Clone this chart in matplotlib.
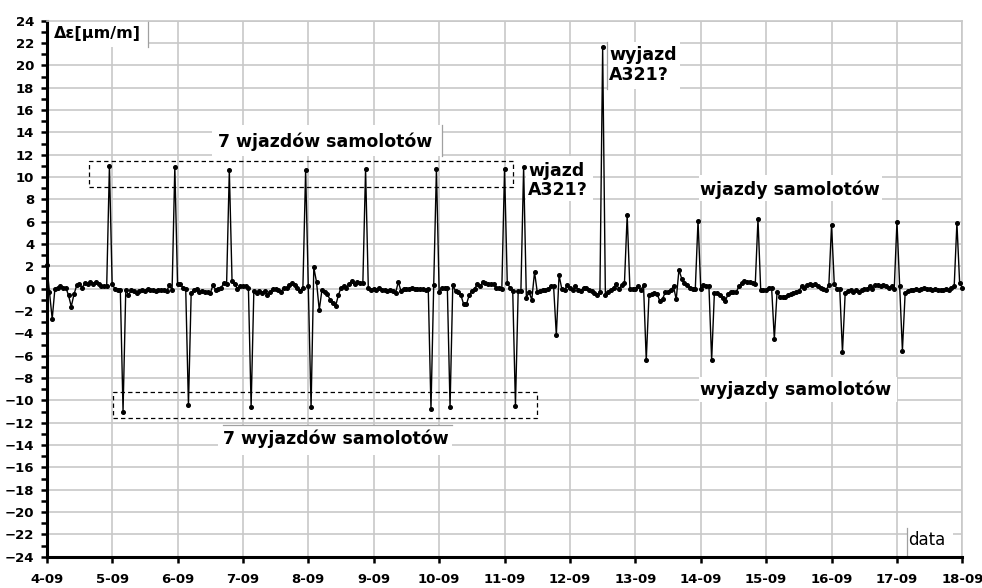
import numpy as np
import matplotlib
matplotlib.use("Agg")
import matplotlib.pyplot as plt
from matplotlib.patches import Rectangle

# ---------------- data ----------------
day_labels = ["4-09", "5-09", "6-09", "7-09", "8-09", "9-09", "10-09", "11-09",
              "12-09", "13-09", "14-09", "15-09", "16-09", "17-09", "18-09"]
samples_per_day = 24  # hourly readings

d04 = [2.1, -0.3, -2.7, 0.0, 0.1, 0.2, 0.1, 0.1, -0.6, -1.6, -0.5, 0.3,
       0.4, 0.1, 0.5, 0.4, 0.6, 0.4, 0.6, 0.4, 0.2, 0.2, 0.2, 11.0]
d05 = [0.4, 0.0, -0.1, -0.1, -11.0, -0.1, -0.6, -0.1, -0.2, -0.4, -0.2, -0.1,
       -0.2, 0.0, -0.1, -0.1, -0.2, -0.1, -0.1, -0.1, -0.2, 0.3, -0.1, 10.9]
d06 = [0.4, 0.4, 0.1, 0.0, -10.45, -0.4, -0.1, 0.0, -0.3, -0.2, -0.3, -0.3,
       -0.4, 0.3, -0.1, 0.0, 0.1, 0.5, 0.4, 10.6, 0.7, 0.4, 0.0, 0.2]
d07 = [0.2, 0.2, 0.1, -10.55, -0.2, -0.35, -0.2, -0.4, -0.2, -0.6, -0.3, 0.0,
       0.0, -0.1, -0.3, 0.1, 0.1, 0.3, 0.5, 0.3, 0.1, -0.2, 0.1, 10.6]
d08 = [0.2, -10.6, 1.9, 0.6, -1.9, -0.1, -0.3, -0.5, -1.0, -1.3, -1.55, -0.6,
       0.1, 0.2, 0.1, 0.4, 0.7, 0.4, 0.6, 0.5, 0.5, 10.7, 0.1, -0.1]
d09 = [0.0, -0.1, 0.1, -0.1, -0.1, -0.2, -0.1, -0.2, -0.4, 0.6, -0.2, 0.0,
       0.0, 0.0, 0.1, 0.0, 0.0, 0.0, 0.0, -0.1, 0.0, -10.8, 0.3, 10.7]
d10 = [-0.3, 0.1, 0.1, 0.1, -10.6, 0.3, -0.2, -0.3, -0.6, -1.4, -1.4, -0.6,
       -0.2, 0.0, 0.4, 0.2, 0.6, 0.5, 0.4, 0.4, 0.4, 0.1, 0.1, 0.0]
d11 = [10.7, 0.5, 0.1, -0.2, -10.5, -0.2, -0.2, 10.9, -0.8, -0.3, -1.0, 1.5,
       -0.3, -0.2, -0.1, -0.1, 0.0, 0.2, 0.2, -4.15, 1.2, 0.0, -0.1, 0.3]
d12 = [0.1, -0.1, 0.2, -0.1, -0.2, 0.1, 0.1, -0.1, -0.2, -0.4, -0.6, -0.3,
       21.6, -0.6, -0.3, -0.1, 0.1, 0.4, 0.0, 0.3, 0.5, 6.6, 0.0, 0.0]
d13 = [0.0, 0.2, -0.1, 0.3, -6.4, -0.6, -0.5, -0.4, -0.5, -1.1, -0.9, -0.3,
       -0.3, -0.1, 0.2, -0.95, 1.7, 0.9, 0.5, 0.3, 0.1, 0.0, 0.0, 6.1]
d14 = [0.0, 0.3, 0.2, 0.2, -6.4, -0.4, -0.4, -0.6, -0.8, -1.1, -0.5, -0.3,
       -0.3, -0.3, 0.2, 0.5, 0.7, 0.6, 0.6, 0.5, 0.4, 6.25, -0.1, -0.1]
d15 = [-0.1, 0.1, 0.1, -4.5, -0.3, -0.7, -0.7, -0.7, -0.6, -0.5, -0.4, -0.3,
       -0.2, 0.2, 0.1, 0.3, 0.4, 0.3, 0.4, 0.2, 0.1, 0.0, -0.1, 0.3]
d16 = [5.7, 0.4, 0.0, 0.0, -5.7, -0.4, -0.2, -0.1, -0.3, -0.1, -0.3, -0.1,
       0.0, 0.0, 0.2, 0.0, 0.3, 0.3, 0.2, 0.3, 0.2, 0.1, 0.2, 0.0]
d17 = [6.0, 0.2, -5.55, -0.4, -0.2, -0.1, -0.1, 0.0, -0.1, 0.0, 0.1, 0.0,
       0.0, -0.1, 0.0, -0.1, -0.1, -0.1, 0.0, -0.1, 0.1, 0.2, 5.9, 0.5]
d18 = [0.1]

strain = d04 + d05 + d06 + d07 + d08 + d09 + d10 + d11 + d12 + d13 + d14 + d15 + d16 + d17 + d18
t_days = np.arange(len(strain)) / samples_per_day

# ---------------- figure ----------------
plt.rcParams['font.family'] = ['DejaVu Sans']
fig = plt.figure(figsize=(9.82, 5.88), dpi=100)
ax = fig.add_axes([0.0476, 0.0532, 0.9324, 0.9116])

grid_c = '#c8c8c8'
ax.set_xlim(0, 14)
ax.set_ylim(-24, 24)
ax.set_xticks(range(len(day_labels)))
ax.set_xticklabels(day_labels)
ax.set_yticks(range(-24, 25, 2))
ax.set_yticks(range(-24, 25, 1), minor=True)
ax.set_axisbelow(True)
ax.grid(True, which='major', color=grid_c, lw=1.2)

for s in ['left', 'bottom']:
    ax.spines[s].set_linewidth(2.2)
    ax.spines[s].set_color('black')
for s in ['top', 'right']:
    ax.spines[s].set_linewidth(1.2)
    ax.spines[s].set_color(grid_c)

ax.tick_params(axis='both', which='both', direction='out', width=1.8, length=4)
ax.tick_params(axis='x', which='minor', length=0)
ax.tick_params(axis='x', pad=8)
ax.tick_params(axis='y', pad=5)
for lab in ax.get_xticklabels() + ax.get_yticklabels():
    lab.set_fontweight('bold')
    lab.set_fontsize(9.5)

ax.plot(t_days, strain, '-', color='black', lw=1.0, marker='o', ms=2.6,
        mfc='black', mec='black', zorder=3, clip_on=False)

# dashed frames
ax.add_patch(Rectangle((0.651, 9.08), 6.479, 2.35, fill=False, ls=(0, (3.5, 2.5)),
                       lw=0.9, ec='black', zorder=2.6))
ax.add_patch(Rectangle((1.018, -11.6), 6.483, 2.32, fill=False, ls=(0, (3.5, 2.5)),
                       lw=0.9, ec='black', zorder=2.6))

def box(x0, y0, w, h):
    ax.add_patch(Rectangle((x0, y0), w, h, fc='white', ec='none', zorder=2))

def gline(xs, ys):
    ax.plot(xs, ys, color='#a0a0a0', lw=0.9, zorder=2.2, clip_on=False)

bold = dict(fontweight='bold', fontsize=12.5, zorder=4)

# axis title
box(0.0, 21.67, 1.553, 2.28)
gline([1.553, 1.553], [21.67, 24])
ax.text(0.112, 22.85, 'Δε[μm/m]', fontweight='bold', fontsize=11.5, va='center', ha='left', zorder=4)

# 7 wjazdow
box(2.53, 11.9, 3.515, 2.75)
gline([6.045, 6.045], [11.9, 14.66])
ax.text(2.62, 13.16, '7 wjazdów samolotów', va='center', ha='left', **bold)

# 7 wyjazdow
box(2.62, -14.9, 3.58, 2.7)
gline([2.70, 6.2], [-12.2, -12.2])
ax.text(2.70, -13.48, '7 wyjazdów samolotów', va='center', ha='left', **bold)

# wjazd A321?
box(7.33, 7.83, 1.02, 4.03)
ax.text(7.364, 9.7, 'wjazd\nA321?', va='center', ha='left', linespacing=1.1, **bold)

# wyjazd A321?
box(8.57, 17.88, 1.11, 4.2)
gline([8.568, 8.568], [17.9, 22.1])
ax.text(8.602, 20.05, 'wyjazd\nA321?', va='center', ha='left', linespacing=1.1, **bold)

# wjazdy samolotow
box(9.975, 7.85, 2.8, 2.3)
ax.text(9.99, 8.84, 'wjazdy samolotów', va='center', ha='left', **bold)

# wyjazdy samolotow
box(9.975, -10.15, 3.03, 2.25)
ax.text(9.99, -9.07, 'wyjazdy samolotów', va='center', ha='left', **bold)

# data label
box(13.15, -23.8, 0.71, 2.5)
gline([13.15, 13.15], [-21.4, -23.85])
ax.text(13.17, -22.5, 'data', va='center', ha='left', fontsize=12, zorder=4)

fig.savefig('out.png', dpi=100)
